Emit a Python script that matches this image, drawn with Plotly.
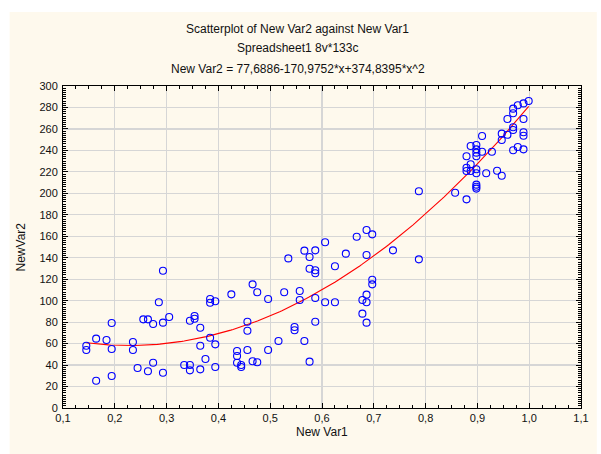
import numpy as np
import plotly.graph_objects as go

# ---- data ----
x_vals = [
    0.145, 0.145, 0.164, 0.164, 0.184, 0.194, 0.194, 0.194, 0.235, 0.235,
    0.244, 0.255, 0.264, 0.264, 0.274, 0.274, 0.285, 0.293, 0.293, 0.293,
    0.305, 0.334, 0.345, 0.345, 0.345, 0.354, 0.354, 0.365, 0.365, 0.365,
    0.375, 0.384, 0.384, 0.384, 0.394, 0.394, 0.394, 0.425, 0.436, 0.436,
    0.436, 0.444, 0.444, 0.456, 0.456, 0.456, 0.466, 0.466, 0.475, 0.475,
    0.496, 0.496, 0.516, 0.527, 0.535, 0.547, 0.547, 0.557, 0.557, 0.566,
    0.566, 0.576, 0.576, 0.576, 0.587, 0.587, 0.587, 0.587, 0.587, 0.606,
    0.606, 0.625, 0.625, 0.646, 0.667, 0.678, 0.678, 0.686, 0.686, 0.686,
    0.686, 0.686, 0.697, 0.697, 0.697, 0.737, 0.787, 0.787, 0.857, 0.879,
    0.879, 0.879, 0.879, 0.887, 0.887, 0.887, 0.898, 0.898, 0.898, 0.898,
    0.898, 0.898, 0.898, 0.898, 0.898, 0.909, 0.909, 0.917, 0.928, 0.938,
    0.947, 0.947, 0.947, 0.958, 0.958, 0.969, 0.969, 0.969, 0.969, 0.969,
    0.978, 0.978, 0.989, 0.989, 0.989, 0.989, 0.989, 0.999,
]
y_vals = [
    58, 54, 64.6, 25.4, 63.4, 79.2, 55.0, 29.8, 61.5, 54.0,
    37.3, 82.6, 82.6, 34.2, 78.3, 42.2, 98.5, 127.9, 79.5, 32.9,
    84.8, 40.1, 81.3, 40.1, 35.1, 85.7, 83.2, 74.8, 58.0, 36.0,
    45.7, 101.6, 98.1, 65.5, 99.4, 59.3, 38.2, 105.9, 53.1, 48.4,
    42.2, 40.1, 38.2, 80.4, 72.0, 54.0, 115.2, 43.5, 107.8, 42.6,
    101.6, 54.0, 62.4, 107.8, 139.4, 75.5, 72.4, 109.0, 100.6, 146.6,
    62.4, 140.7, 129.8, 43.2, 146.9, 128.3, 125.5, 102.5, 80.4, 154.4,
    98.5, 132.0, 98.5, 143.8, 159.6, 100.6, 87.9, 165.8, 142.5, 105.6,
    98.5, 79.5, 161.8, 119.5, 115.2, 146.9, 138.5, 201.9, 200.6, 194.4,
    234.5, 223.9, 220.8, 244.1, 227.1, 220.8, 245.0, 241.0, 237.9, 234.5,
    222.4, 218.7, 208.1, 206.2, 204.4, 253.4, 238.8, 218.7, 238.8, 221.1,
    255.6, 249.7, 216.4, 269.3, 254.6, 278.9, 274.6, 261.5, 259.0, 240.1,
    282.0, 243.2, 283.8, 269.3, 256.9, 253.7, 241.0, 286.0,
]
# quadratic fit coefficients printed in the chart title
fit_coef = [77.6886, -170.9752, 374.8395]

x_tickvals = [0.1, 0.2, 0.3, 0.4, 0.5, 0.6, 0.7, 0.8, 0.9, 1.0, 1.1]
x_ticktext = ["0,1", "0,2", "0,3", "0,4", "0,5", "0,6", "0,7", "0,8", "0,9", "1,0", "1,1"]
y_tickvals = list(range(0, 301, 20))

title_lines = [
    "Scatterplot of New Var2 against New Var1",
    "Spreadsheet1 8v*133c",
    "New Var2 = 77,6886-170,9752*x+374,8395*x^2",
]

# ---- figure ----
W, H = 601, 454
L, R, T, B = 63, 587, 86, 408   # plot area pixel bounds
pw, ph = R - L, B - T

def px_x(p):
    return (p - L) / pw

def px_y(p):
    return (B - p) / ph

xf = np.linspace(min(x_vals), max(x_vals), 200)
yf = fit_coef[0] + fit_coef[1] * xf + fit_coef[2] * xf ** 2

fig = go.Figure()
fig.add_trace(go.Scatter(
    x=xf, y=yf, mode="lines",
    line=dict(color="#ff0000", width=1.1),
    hoverinfo="skip", showlegend=False,
))
fig.add_trace(go.Scatter(
    x=x_vals, y=y_vals, mode="markers",
    marker=dict(symbol="circle-open", size=7, color="#0000ff",
                line=dict(width=1.1, color="#0000ff")),
    showlegend=False,
))

font_family = "Liberation Sans, Arial, sans-serif"
axis_common = dict(
    showline=True, linecolor="black", linewidth=1, mirror="allticks",
    ticks="inside", ticklen=5, tickcolor="black", tickwidth=1,
    showgrid=True, gridcolor="#d6d6d6", gridwidth=1.2,
    zeroline=False,
    tickfont=dict(family=font_family, size=11, color="#111"),
)

fig.update_xaxes(
    range=[0.1, 1.1], tickvals=x_tickvals, ticktext=x_ticktext,
    minor=dict(dtick=0.025, tick0=0.1, ticks="inside", ticklen=3,
               tickcolor="black", showgrid=False),
    **axis_common,
)
fig.update_yaxes(
    range=[0, 300], tickvals=y_tickvals, ticklabelstandoff=2,
    minor=dict(dtick=2, tick0=0, ticks="inside", ticklen=3,
               tickcolor="black", showgrid=False),
    **axis_common,
)

annotations = []
for line, ypx in zip(title_lines, [29, 48, 69]):
    annotations.append(dict(
        text=line, xref="paper", yref="paper",
        x=px_x(300.5), y=px_y(ypx), showarrow=False,
        xanchor="center", yanchor="middle",
        font=dict(family=font_family, size=12, color="#111"),
    ))
annotations.append(dict(
    text="New Var1", xref="paper", yref="paper",
    x=px_x(325), y=px_y(432), showarrow=False,
    xanchor="center", yanchor="middle",
    font=dict(family=font_family, size=12, color="#111"),
))
annotations.append(dict(
    text="NewVar2", xref="paper", yref="paper",
    x=px_x(21), y=px_y(247), showarrow=False, textangle=-90,
    xanchor="center", yanchor="middle",
    font=dict(family=font_family, size=12, color="#111"),
))

fig.update_layout(
    width=W, height=H,
    margin=dict(l=L, r=W - R, t=T, b=H - B, pad=0),
    paper_bgcolor="white", plot_bgcolor="white",
    annotations=annotations,
    shapes=[dict(
        type="rect", xref="paper", yref="paper", layer="below",
        x0=px_x(9), x1=px_x(W + 2), y0=px_y(H + 2), y1=px_y(12),
        fillcolor="#fef9ed", line=dict(width=0),
    )],
    hovermode=False,
)

fig.write_html(
    "out.html",
    config={"displayModeBar": False, "staticPlot": True},
    post_script="document.body.style.margin='0px';document.body.style.padding='0px';",
)
